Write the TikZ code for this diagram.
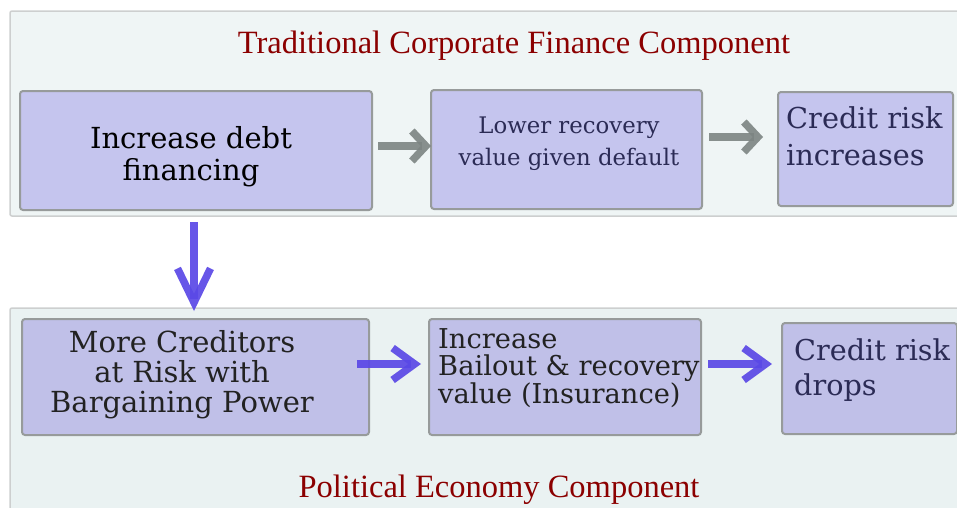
\documentclass[tikz,border=0pt]{standalone}
\usepackage{fontspec}
\setmainfont{DejaVu Serif}
\newfontfamily\titlefont{Liberation Serif}
\usetikzlibrary{arrows.meta}

\definecolor{paneltop}{HTML}{EFF5F5}
\definecolor{panelbot}{HTML}{EAF2F2}
\definecolor{panelline}{HTML}{CDCFCF}
\definecolor{boxfill}{HTML}{C5C5EE}
\definecolor{boxfillb}{HTML}{C0C0E8}
\definecolor{boxline}{HTML}{979B9B}
\definecolor{titlered}{HTML}{8B0000}
\definecolor{navy}{HTML}{2B2B55}
\definecolor{darktext}{HTML}{222222}
\definecolor{arrgray}{HTML}{7C8482}
\definecolor{arrblue}{HTML}{5A48E6}

\tikzset{
  panel/.style={draw=panelline, line width=1.5pt, rounded corners=2pt},
  box/.style={draw=boxline, line width=2pt, rounded corners=3pt, inner sep=0pt},
  title/.style={font=\titlefont\fontsize{32.5}{36}\selectfont, text=titlered, anchor=base, inner sep=0pt},
  txt/.style={inner sep=0pt, anchor=base},
  garrow/.style={draw=arrgray, draw opacity=0.9, line width=7.5pt,
    -{Straight Barb[length=14pt, width=30pt]}},
  barrow/.style={draw=arrblue, draw opacity=0.92, line width=7.5pt,
    -{Straight Barb[length=22pt, width=32pt]}},
}

\begin{document}
\begin{tikzpicture}[x=1pt, y=-1pt]
  \useasboundingbox (0,0) rectangle (957,507);

  % panels
  \path[panel, fill=paneltop] (10,11) rectangle (975,216);
  \path[panel, fill=panelbot] (10,308) rectangle (975,530);

  \node[title] (ttop) at (514,53) {Traditional Corporate Finance Component};
  \node[title] (tbot) at (499,497) {Political Economy Component};

  % upper row
  \node[box, fill=boxfill, minimum width=352pt, minimum height=119pt, anchor=north west] (b1) at (19,90) {};
  \node[box, fill=boxfill, minimum width=271pt, minimum height=119pt, anchor=north west] (b2) at (430,89) {};
  \node[box, fill=boxfill, minimum width=175pt, minimum height=114pt, anchor=north west] (b3) at (777,91) {};

  % lower row
  \node[box, fill=boxfillb, minimum width=347pt, minimum height=116pt, anchor=north west] (b4) at (21,318) {};
  \node[box, fill=boxfillb, minimum width=272pt, minimum height=116pt, anchor=north west] (b5) at (428,318) {};
  \node[box, fill=boxfillb, minimum width=175pt, minimum height=111pt, anchor=north west] (b6) at (781,322) {};

  % box texts (anchored on the baseline of their last line)
  \node[txt, align=center, font=\fontsize{29}{32}\selectfont, text=black] (t1) at (191,180)
    {Increase debt\\financing};
  \node[txt, align=center, font=\fontsize{22.8}{32}\selectfont, text=navy] (t2) at (569,165)
    {Lower recovery\\value given default};
  \node[txt, align=left, font=\fontsize{28.8}{37}\selectfont, text=navy, anchor=base west] (t3) at (786,165)
    {Credit risk\\increases};
  \node[txt, align=center, font=\fontsize{29}{30}\selectfont, text=darktext] (t4) at (182,412)
    {More Creditors\\at Risk with\\Bargaining Power};
  \node[txt, align=left, font=\fontsize{27.3}{26.5}\selectfont, text=darktext, anchor=base west] (t5) at (438,403)
    {Increase\\Bailout \& recovery\\value (Insurance)};
  \node[txt, align=left, font=\fontsize{28.7}{35}\selectfont, text=navy, anchor=base west] (t6) at (794,395)
    {Credit risk\\drops};

  % connectors
  \draw[garrow] ([shift={(5,-4.5)}]b1.east) -- ([shift={(1,-3.5)}]b2.west);
  \draw[garrow] ([shift={(6,-12.5)}]b2.east) -- ([shift={(-14,-12)}]b3.west);
  \draw[barrow, -{Straight Barb[length=34pt, width=33pt]}] ([shift={(-2,11)}]b1.south) -- ([shift={(-1.5,-7)}]b4.north);
  \draw[barrow] ([shift={(-13,-13)}]b4.east) -- ([shift={(-7,-13)}]b5.west);
  \draw[barrow] ([shift={(6,-13)}]b5.east) -- ([shift={(-9,-14.5)}]b6.west);
\end{tikzpicture}
\end{document}
